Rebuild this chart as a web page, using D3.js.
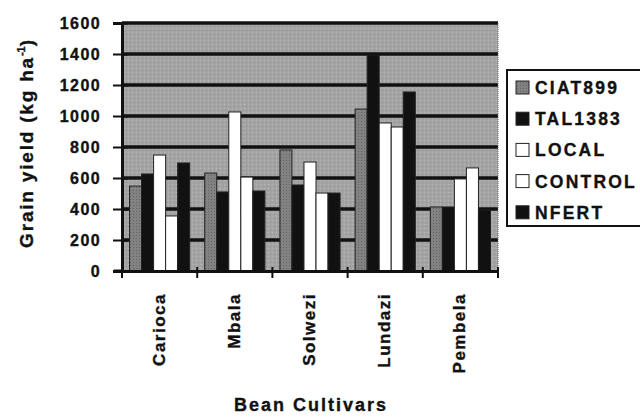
<!DOCTYPE html>
<html>
<head>
<meta charset="utf-8">
<script src="https://cdn.jsdelivr.net/npm/d3@7"></script>
<style>
  body { margin: 0; background: #fff; }
  svg { display: block; font-family: Arial, "Liberation Sans", sans-serif; }
  svg text { stroke: #111; stroke-width: 0.35px; }
</style>
</head>
<body>
<svg id="chart" width="640" height="417"></svg>
<script>
// Grain yield (kg/ha) of five bean cultivars under five inoculation / fertiliser treatments
const cultivars = ["Carioca", "Mbala", "Solwezi", "Lundazi", "Pembela"];
const treatments = ["CIAT899", "TAL1383", "LOCAL", "CONTROL", "NFERT"];
const ciat899 = [548, 632, 781, 1045, 413];
const tal1383 = [626, 510, 555, 1394, 413];
const local   = [748, 1026, 703, 955, 594];
const control = [355, 606, 503, 929, 665];
const nfert   = [697, 516, 503, 1155, 394];
const yTicks = [0, 200, 400, 600, 800, 1000, 1200, 1400, 1600];

const series = [ciat899, tal1383, local, control, nfert];
const fills = ["url(#ciatFill)", "#111", "#fff", "#fff", "#111"];

const svg = d3.select("#chart");
const m = { left: 122, right: 498, top: 23, bottom: 271 };

const defs = svg.append("defs");
// Speckled grey plot background
const bg = defs.append("pattern").attr("id", "bgFill")
  .attr("patternUnits", "userSpaceOnUse").attr("width", 4).attr("height", 4);
bg.append("rect").attr("width", 4).attr("height", 4).attr("fill", "#a4a4a4");
bg.append("rect").attr("x", 0).attr("y", 0).attr("width", 1).attr("height", 1).attr("fill", "#b8b8b8");
bg.append("rect").attr("x", 2).attr("y", 2).attr("width", 1).attr("height", 1).attr("fill", "#909090");
// Dotted darker grey for CIAT899
const cf = defs.append("pattern").attr("id", "ciatFill")
  .attr("patternUnits", "userSpaceOnUse").attr("width", 3).attr("height", 3);
cf.append("rect").attr("width", 3).attr("height", 3).attr("fill", "#828282");
cf.append("rect").attr("x", 1).attr("y", 1).attr("width", 1).attr("height", 1).attr("fill", "#646464");

const x = d3.scaleBand().domain(cultivars).range([m.left, m.right]).paddingInner(0).paddingOuter(0);
const xs = d3.scaleBand().domain(treatments).range([0, x.bandwidth()]).paddingInner(0).paddingOuter(0.625);
const y = d3.scaleLinear().domain([0, 1600]).range([m.bottom, m.top]);

// Plot background
svg.append("rect").attr("x", m.left).attr("y", m.top)
  .attr("width", m.right - m.left).attr("height", m.bottom - m.top)
  .attr("fill", "url(#bgFill)");

// Gridlines
svg.append("g").selectAll("line").data(yTicks.filter(d => d > 0)).join("line")
  .attr("x1", m.left).attr("x2", m.right)
  .attr("y1", d => y(d)).attr("y2", d => y(d))
  .attr("stroke", "#111").attr("stroke-width", 3.5);

// Bars
const rows = [];
cultivars.forEach((c, i) => treatments.forEach((t, j) => rows.push({ c, t, j, v: series[j][i] })));
svg.append("g").selectAll("rect").data(rows).join("rect")
  .attr("x", d => x(d.c) + xs(d.t))
  .attr("y", d => y(d.v))
  .attr("width", xs.bandwidth())
  .attr("height", d => y(0) - y(d.v))
  .attr("fill", d => fills[d.j])
  .attr("stroke", "#222").attr("stroke-width", 1);

// Right border of plot
svg.append("line").attr("x1", m.right).attr("x2", m.right).attr("y1", m.top).attr("y2", m.bottom)
  .attr("stroke", "#666").attr("stroke-width", 1).attr("stroke-dasharray", "1,1");

// Y axis
const yAxis = svg.append("g").attr("transform", `translate(${m.left},0)`)
  .call(d3.axisLeft(y).tickValues(yTicks).tickSize(9).tickPadding(12).tickFormat(d3.format("d")));
yAxis.select(".domain").attr("stroke", "#111").attr("stroke-width", 3);
yAxis.selectAll(".tick line").attr("stroke", "#111").attr("stroke-width", 2).attr("x2", -9).attr("x1", 6);
yAxis.selectAll("text").attr("font-size", 16).attr("font-weight", "bold").attr("fill", "#111")
  .attr("letter-spacing", 1.4)
  .attr("font-family", "Arial, 'Liberation Sans', sans-serif");

// X axis
const xAxis = svg.append("g").attr("transform", `translate(0,${m.bottom})`)
  .call(d3.axisBottom(x).tickValues([]).tickSizeOuter(0));
xAxis.select(".domain").attr("stroke", "#111").attr("stroke-width", 3);
const bounds = d3.range(cultivars.length + 1).map(i => m.left + i * x.step());
xAxis.selectAll(".bound").data(bounds).join("line").attr("class", "bound")
  .attr("x1", d => d).attr("x2", d => d).attr("y1", -4).attr("y2", 7)
  .attr("stroke", "#111").attr("stroke-width", 2);
xAxis.append("line").attr("x1", m.left - 8).attr("x2", m.left).attr("y1", 0).attr("y2", 0)
  .attr("stroke", "#111").attr("stroke-width", 3);

// Cultivar labels, rotated
svg.append("g").selectAll("text").data(cultivars).join("text")
  .attr("transform", d => `translate(${x(d) + x.bandwidth() / 2 + 5},293) rotate(-90)`)
  .attr("text-anchor", "end")
  .attr("font-size", 17).attr("font-weight", "bold").attr("fill", "#111")
  .attr("letter-spacing", 1.5)
  .text(d => d);

// Axis titles
svg.append("text").attr("x", 311).attr("y", 411).attr("text-anchor", "middle")
  .attr("font-size", 18).attr("font-weight", "bold").attr("fill", "#111").attr("letter-spacing", 2)
  .text("Bean Cultivars");

const yt = svg.append("text").attr("transform", "translate(33,143) rotate(-90)")
  .attr("text-anchor", "middle").attr("font-size", 19).attr("font-weight", "bold").attr("fill", "#111")
  .attr("letter-spacing", 1.8);
yt.append("tspan").text("Grain yield (kg ha");
yt.append("tspan").attr("dy", -8).attr("font-size", 11).attr("letter-spacing", 0).text("-1");
yt.append("tspan").attr("dy", 8).text(")");

// Legend
const lg = svg.append("g");
lg.append("rect").attr("x", 507).attr("y", 70).attr("width", 140).attr("height", 156)
  .attr("fill", "#fff").attr("stroke", "#111").attr("stroke-width", 2);
const items = lg.selectAll("g.item").data(treatments).join("g").attr("class", "item")
  .attr("transform", (d, i) => `translate(516,${87 + i * 31.2})`);
items.append("rect").attr("x", 0).attr("y", -6).attr("width", 13).attr("height", 13)
  .attr("fill", (d, i) => fills[i]).attr("stroke", "#222").attr("stroke-width", 1);
items.append("text").attr("x", 19).attr("y", 7)
  .attr("font-size", 17.5).attr("font-weight", "bold").attr("fill", "#111").attr("letter-spacing", 2.2)
  .text(d => d);
</script>
</body>
</html>
